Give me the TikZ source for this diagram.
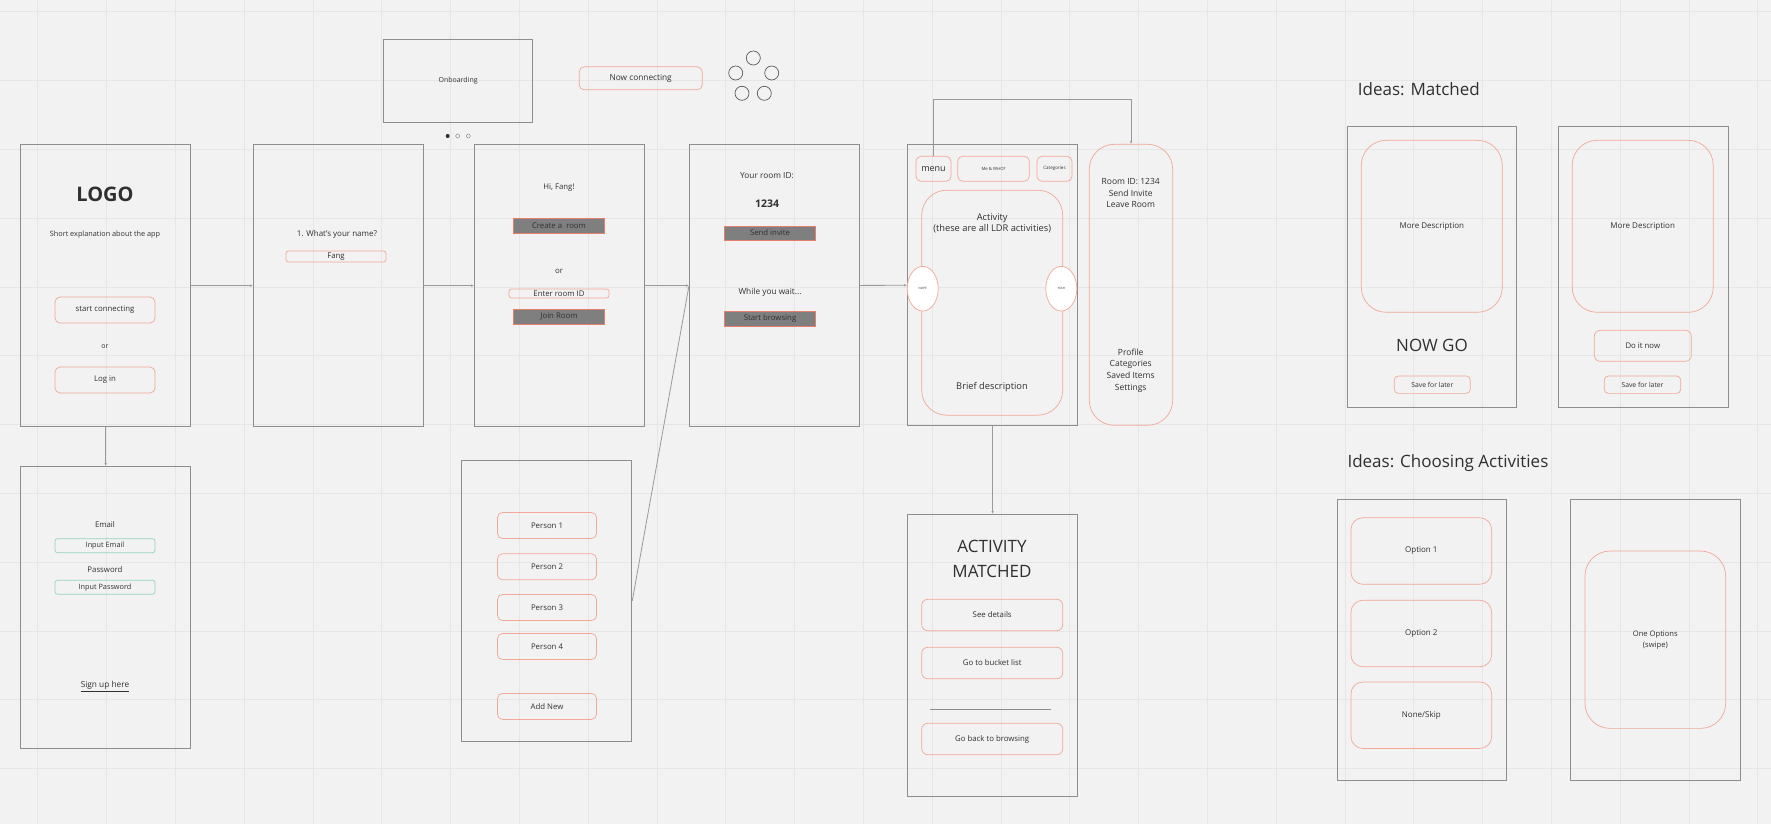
\documentclass[tikz,border=0pt]{standalone}
\usepackage{fontspec}
\setmainfont{Open Sans}
\usepackage{tikz}
\usetikzlibrary{arrows.meta,positioning,shapes.geometric}

\definecolor{boardbg}{HTML}{F2F2F2}
\definecolor{gridgray}{HTML}{E6E6E6}
\definecolor{framegray}{HTML}{8E8E8E}
\definecolor{salmon}{HTML}{F3A797}
\definecolor{tealedge}{HTML}{93D3C4}
\definecolor{btngray}{HTML}{7F7F7F}
\definecolor{btnedge}{HTML}{E57F6C}
\definecolor{inkc}{HTML}{303030}
\definecolor{linegray}{HTML}{9A9A9A}

\newcommand{\fsz}[2]{\fontsize{#1}{#2}\selectfont}

\begin{document}
\begin{tikzpicture}[
    x=1pt, y=-1pt,
    >=Latex,
    screen/.style={
        rectangle,
        draw=framegray,
        line width=1.2pt,
        minimum width=170pt,
        minimum height=282pt,
        inner sep=0pt,
        anchor=north west
    },
    uitext/.style={
        inner sep=0pt,
        align=center,
        text=inkc,
        font=\fsz{7.8pt}{9pt}
    },
    pill/.style={
        rectangle,
        draw=salmon,
        line width=0.7pt,
        rounded corners=5pt,
        minimum width=100pt,
        minimum height=26pt,
        inner sep=0pt,
        align=center,
        text=inkc,
        font=\fsz{7.8pt}{9pt}
    },
    field/.style={
        pill,
        rounded corners=2.5pt,
        minimum height=11pt
    },
    darkbtn/.style={
        rectangle,
        draw=btnedge,
        fill=btngray,
        line width=0.8pt,
        minimum width=91pt,
        minimum height=15pt,
        inner sep=0pt,
        text=inkc,
        font=\fsz{7.8pt}{9pt}
    },
    card/.style={
        pill,
        rounded corners=25pt,
        minimum width=141pt,
        minimum height=172pt
    },
    swipe/.style={
        ellipse,
        draw=salmon,
        fill=white,
        line width=0.7pt,
        minimum width=31pt,
        minimum height=44.6pt,
        inner sep=0pt,
        text=inkc,
        font=\fsz{3pt}{4pt}
    },
    line/.style={draw=linegray, line width=0.8pt, -{Latex[length=3pt,width=2.5pt]}}
]

% Board and grid
\useasboundingbox (0,0) rectangle (1771,824);
\fill[boardbg] (0,0) rectangle (1771,824);
\foreach \i in {0,...,25}
    \draw[gridgray, line width=0.6pt] ({37.7+68.8*\i},0) -- ({37.7+68.8*\i},824);
\foreach \j in {0,...,11}
    \draw[gridgray, line width=0.6pt] (0,{11.7+68.8*\j}) -- (1771,{11.7+68.8*\j});

% Main screens
\node[screen] (welcome) at (20,144) {};
\node[screen] (login) at (20,466) {};
\node[screen] (askname) at (253,144) {};
\node[screen] (lobby) at (474,144) {};
\node[screen] (roomid) at (689,144) {};
\node[screen, minimum height=281pt] (people) at (461,460) {};
\node[screen, minimum height=281pt] (browse) at (907,144) {};
\node[screen] (matched) at (907,514) {};
\node[screen, minimum width=149pt, minimum height=83pt] (onboard) at (383,39) {};

% Welcome screen
\node[uitext, font={\fsz{20pt}{22pt}\bfseries}] (logo) at (105,194) {LOGO};
\node[uitext, font=\fsz{7.3pt}{8pt}] (blurb) at (105,235) {Short explanation about the app};
\node[pill] (startbtn) at (105,310) {start connecting};
\node[uitext, font=\fsz{7pt}{8pt}] (orwelcome) at (105,347) {or};
\node[pill] (loginbtn) at (105,380) {Log in};

% Login screen
\node[uitext] (emaillbl) at (105,525) {Email};
\node[field, draw=tealedge, minimum height=14pt, font=\fsz{7.3pt}{8pt}] (emailin) at (105,545.7) {Input Email};
\node[uitext] (pwlbl) at (105,569.3) {Password};
\node[field, draw=tealedge, minimum height=14pt, font=\fsz{7.3pt}{8pt}] (pwin) at (105,587.2) {Input Password};
\node[uitext, font=\fsz{8.3pt}{9pt}] (signup) at (105,686.3) {\underline{Sign up here}};

% Name screen
\node[uitext, font=\fsz{8pt}{10pt}] (namelbl) at (337,234) {1. What's your name?};
\node[field] (namein) at (336,256.5) {Fang};

% Lobby screen
\node[uitext] (hi) at (559,188) {Hi, Fang!};
\node[darkbtn] (create) at (559,225.5) {Create a\ \ room};
\node[uitext] (orlobby) at (559,271) {or};
\node[field, minimum height=9pt] (enterid) at (559,293.5) {Enter room ID};
\node[darkbtn] (join) at (559,316.5) {Join Room};

% Room ID screen
\node[uitext, font=\fsz{8.3pt}{10pt}] (yourid) at (767,176) {Your room ID:};
\node[uitext, font={\fsz{10.5pt}{12pt}\bfseries}] (code) at (767,204) {1234};
\node[darkbtn, minimum height=14pt] (invite) at (770,233) {Send invite};
\node[uitext, font=\fsz{8.3pt}{10pt}] (wait) at (770,292) {While you wait...};
\node[darkbtn] (startbrowse) at (770,318.5) {Start browsing};

% People screen
\foreach \n/\y in {1/525.5, 2/566.8, 3/607.5, 4/646.5}
    \node[pill, minimum width=99pt] (person\n) at (547,\y) {Person \n};
\node[pill, minimum width=99pt] (addnew) at (547,706.4) {Add New};

% Onboarding and loading
\node[uitext, font=\fsz{7pt}{8pt}] (onboardlbl) at (onboard) {Onboarding};
\fill[inkc] (447.7,136) circle (2pt);
\draw[framegray, line width=0.5pt] (457.7,136) circle (2pt);
\draw[framegray, line width=0.5pt] (468.3,136) circle (2pt);
\node[pill, minimum width=123pt, minimum height=23pt, font=\fsz{8.3pt}{10pt}] (nowconn) at (640.7,78.3) {Now connecting};
\foreach \cx/\cy in {753.3/58, 735.7/73, 771.7/73, 742/93.3, 764.3/93.3}
    \draw[inkc!80, line width=0.7pt] (\cx,\cy) circle (7pt);

% Browse screen
\node[pill, minimum width=35pt, minimum height=25pt, font=\fsz{9pt}{10pt}] (menu) at (933.5,168.8) {menu};
\node[pill, minimum width=71.6pt, minimum height=25pt, font=\fsz{4.3pt}{5pt}] (who) at (993.5,168.8) {Me \& WHO?};
\node[pill, minimum width=35pt, minimum height=25pt, font=\fsz{4.5pt}{5pt}] (cats) at (1054.5,168.8) {Categories};
\node[card, minimum height=225pt] (activity) at (992.2,302.7) {};
\node[uitext, font=\fsz{9.3pt}{11.6pt}] (acttitle) at (992.2,223.5) {Activity\\(these are all LDR activities)};
\node[uitext, font=\fsz{9.3pt}{10pt}] (brief) at (992,386.7) {Brief description};
\node[swipe] (nope) at (922.7,288.7) {NOPE};
\node[swipe] (yeah) at (1061.3,288.7) {YEAH};

% Side menu
\node[card, minimum width=83.4pt, minimum height=281pt] (sidemenu) at (1131,284.8) {};
\node[uitext, font=\fsz{8.5pt}{11.5pt}] (roominfo) at (1130.7,193.2) {Room ID: 1234\\Send Invite\\Leave Room};
\node[uitext, font=\fsz{8.5pt}{11.7pt}] (navlinks) at (1130.7,370.5) {Profile\\Categories\\Saved Items\\Settings};

% Matched screen
\node[uitext, font=\fsz{17pt}{24.3pt}] (matchtitle) at (992,559) {ACTIVITY\\MATCHED};
\node[pill, minimum width=141pt, minimum height=31.4pt, rounded corners=6pt] (details) at (992.2,615) {See details};
\node[pill, minimum width=141pt, minimum height=31.4pt, rounded corners=6pt] (bucket) at (992.2,663) {Go to bucket list};
\draw[framegray, line width=0.8pt] (930,709.3) -- (1050.7,709.3);
\node[pill, minimum width=141pt, minimum height=31.4pt, rounded corners=6pt] (goback) at (992.2,739) {Go back to browsing};

% Ideas: matched
\node[uitext, anchor=west, font=\fsz{17pt}{20pt}] (ideasmatched) at (1357.7,89) {Ideas: Matched};
\node[screen, minimum width=169pt, minimum height=281pt] (ideaa) at (1347,126) {};
\node[card, font=\fsz{8pt}{9pt}] (moredesca) at (1431.8,226.3) {More Description};
\node[uitext, font=\fsz{17pt}{20pt}] (nowgo) at (1432,345.7) {NOW GO};
\node[pill, minimum width=76pt, minimum height=17.3pt, rounded corners=4pt, font=\fsz{6.8pt}{8pt}] (savea) at (1432.3,384.7) {Save for later};
\node[screen, minimum width=170pt, minimum height=281pt] (ideab) at (1558,126) {};
\node[card, font=\fsz{8pt}{9pt}] (moredescb) at (1642.7,226.3) {More Description};
\node[pill, minimum width=97pt, minimum height=31pt, rounded corners=6pt] (doitnow) at (1642.8,345.8) {Do it now};
\node[pill, minimum width=76.4pt, minimum height=17.3pt, rounded corners=4pt, font=\fsz{6.8pt}{8pt}] (saveb) at (1642.5,384.7) {Save for later};

% Ideas: choosing activities
\node[uitext, anchor=west, font=\fsz{17pt}{20pt}] (ideaschoose) at (1347.3,462.7) {Ideas: Choosing Activities};
\node[screen, minimum width=169pt, minimum height=281pt] (ideac) at (1337,499) {};
\node[pill, minimum width=140.7pt, minimum height=66.6pt, rounded corners=12pt, font=\fsz{8pt}{9pt}] (opt1) at (1421.3,551) {Option 1};
\node[pill, minimum width=140.7pt, minimum height=66.6pt, rounded corners=12pt, font=\fsz{8pt}{9pt}] (opt2) at (1421.3,633.5) {Option 2};
\node[pill, minimum width=140.7pt, minimum height=66.6pt, rounded corners=12pt, font=\fsz{8pt}{9pt}] (skip) at (1421.3,715.2) {None/Skip};
\node[screen, minimum width=170pt, minimum height=281pt] (idead) at (1570,499) {};
\node[card, minimum width=140.7pt, minimum height=177.3pt, font=\fsz{7.6pt}{11pt}] (oneopt) at (1655.3,639.7) {One Options\\(swipe)};

% Flow arrows
\draw[line] (welcome) -- (askname);
\draw[line] (askname) -- (lobby);
\draw[line] (lobby) -- (roomid);
\draw[line] (roomid) -- (browse);
\draw[line] (welcome) -- (login);
\draw[line] (people.east) -- (roomid.west);
\draw[line] (browse) -- (matched);
\draw[line] (menu.north) -- ++(0,-57) -| (sidemenu.north);

\end{tikzpicture}
\end{document}
